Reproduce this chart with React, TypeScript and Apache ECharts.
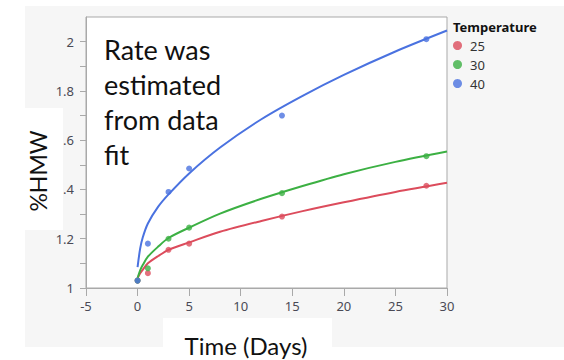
import React, { useEffect, useRef } from "react";
import * as echarts from "echarts";

const temps = ["25", "30", "40"];
const colors = ["#dc4c5c", "#3cb043", "#4a72e0"];

const days = [0, 1, 3, 5, 14, 28];
const hmw25 = [1.03, 1.06, 1.155, 1.18, 1.29, 1.415];
const hmw30 = [1.03, 1.08, 1.2, 1.245, 1.385, 1.535];
const hmw40 = [1.03, 1.18, 1.39, 1.485, 1.7, 2.01];

const fitDays = [0, 0.25, 0.5, 1, 2, 3, 5, 8, 12, 16, 20, 25, 30];
const fit25 = [1.04, 1.06, 1.074, 1.1, 1.13, 1.155, 1.185, 1.228, 1.272, 1.312, 1.348, 1.39, 1.427];
const fit30 = [1.04, 1.072, 1.093, 1.127, 1.168, 1.203, 1.245, 1.302, 1.362, 1.414, 1.462, 1.512, 1.554];
const fit40 = [1.085, 1.16, 1.205, 1.262, 1.33, 1.38, 1.465, 1.57, 1.685, 1.78, 1.865, 1.96, 2.045];

const yMin = 1;
const yMax = 2.1;
const yLabels = [1, 1.2, 1.4, 1.6, 1.8, 2];
const yTickMarks = [1, 1.1, 1.2, 1.3, 1.4, 1.5, 1.6, 1.7, 1.8, 1.9, 2];

const noteLines = ["Rate was", "estimated", "from data", "fit"];

const tickFont = "'Noto Sans', 'Open Sans', sans-serif";
const bigFont = "Lato, 'Open Sans', sans-serif";

export default function App() {
  const ref = useRef<HTMLDivElement>(null);
  useEffect(() => {
    if (!ref.current) return;
    const chart = echarts.init(ref.current, undefined, { renderer: "svg" });
    const points = [hmw25, hmw30, hmw40];
    const fits = [fit25, fit30, fit40];
    const series: any[] = [];
    temps.forEach((t, i) => {
      series.push({
        name: t + " fit",
        type: "line",
        data: fitDays.map((d, j) => [d, fits[i][j]]),
        showSymbol: false,
        smooth: 0.3,
        lineStyle: { color: colors[i], width: 2 },
        itemStyle: { color: colors[i] },
        z: 2,
      });
    });
    temps.forEach((t, i) => {
      series.push({
        name: t,
        type: "scatter",
        data: days.map((d, j) => [d, points[i][j]]),
        symbol: "circle",
        symbolSize: 6,
        itemStyle: { color: colors[i] },
        z: 3,
      });
    });
    const axisColor = "#a9a9a9";
    const labelStyle = { color: "#4a4a55", fontSize: 13, fontFamily: tickFont };
    chart.setOption({
      animation: false,
      backgroundColor: "#ffffff",
      grid: {
        left: 86,
        top: 17,
        right: 117,
        bottom: 72,
        show: true,
        backgroundColor: "#ffffff",
        borderColor: axisColor,
        borderWidth: 1,
      },
      legend: {
        data: temps,
        orient: "vertical",
        left: 453,
        top: 39,
        padding: 0,
        itemWidth: 9,
        itemHeight: 9,
        itemGap: 6,
        icon: "circle",
        textStyle: { fontSize: 13, lineHeight: 13, color: "#333", fontFamily: tickFont, padding: [0, 0, 0, 3] },
      },
      xAxis: {
        type: "value",
        min: -5,
        max: 30,
        interval: 5,
        splitLine: { show: false },
        axisLine: { show: true, onZero: false, lineStyle: { color: axisColor } },
        axisTick: { show: true, inside: false, length: 8, lineStyle: { color: axisColor } },
        axisLabel: { ...labelStyle, margin: 11 },
      },
      yAxis: {
        type: "value",
        min: yMin,
        max: yMax,
        interval: 0.1,
        position: "left",
        splitLine: { show: false },
        axisLine: { show: true, onZero: false, lineStyle: { color: axisColor } },
        axisTick: { show: true, inside: false, length: 6, customValues: yTickMarks, lineStyle: { color: axisColor } },
        axisLabel: { ...labelStyle, margin: 12, customValues: yLabels },
      },
      graphic: [
        { type: "rect", z: -10, shape: { x: 25, y: 6, width: 539, height: 341 }, style: { fill: "#f6f6f6" } },
        { type: "rect", z: 100, shape: { x: 0, y: 108, width: 63, height: 122 }, style: { fill: "#ffffff" } },
        { type: "rect", z: 100, shape: { x: 163, y: 318, width: 169, height: 42 }, style: { fill: "#ffffff" } },
        {
          type: "text",
          z: 101,
          x: 38,
          y: 171,
          rotation: Math.PI / 2,
          style: { text: "%HMW", font: `23px ${bigFont}`, fill: "#111", align: "center", verticalAlign: "middle" },
        },
        {
          type: "text",
          z: 101,
          x: 246,
          y: 345,
          style: { text: "Time (Days)", font: `24px ${bigFont}`, fill: "#111", align: "center", verticalAlign: "middle" },
        },
        ...noteLines.map((line, i) => ({
          type: "text",
          z: 101,
          x: 104,
          y: 49 + i * 35,
          style: { text: line, font: `27px ${bigFont}`, fill: "#111", align: "left", verticalAlign: "middle" },
        })),
        {
          type: "text",
          z: 101,
          x: 453,
          y: 27,
          style: { text: "Temperature", font: `bold 13px ${tickFont}`, fill: "#111", align: "left", verticalAlign: "middle" },
        },
      ],
      series,
    });
    return () => chart.dispose();
  }, []);
  return <div ref={ref} style={{ position: "fixed", left: 0, top: 0, width: 564, height: 360 }} />;
}
